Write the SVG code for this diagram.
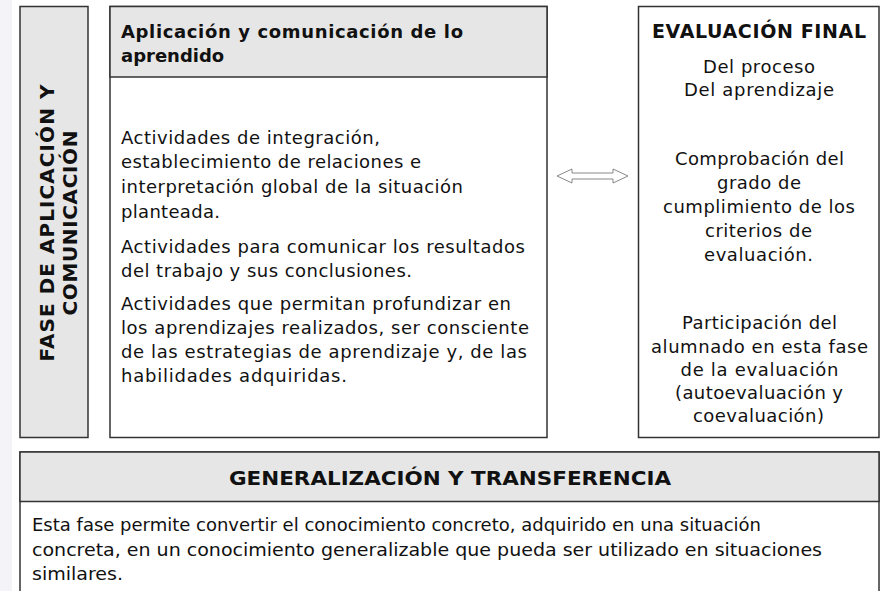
<svg xmlns="http://www.w3.org/2000/svg" width="885" height="591" viewBox="0 0 885 591">
<style>
.box{stroke:#333;stroke-width:1.5;}
.hdr{fill:#e6e6e6;}
.t{font-family:"DejaVu Sans",Verdana,sans-serif;font-size:18px;fill:#111;}
.b{font-family:"DejaVu Sans",Verdana,sans-serif;font-size:18px;font-weight:bold;fill:#111;}
.c{text-anchor:middle;}
.n{font-family:"DejaVu Sans Condensed","DejaVu Sans",sans-serif;font-stretch:condensed;font-size:17px;fill:#111;}
</style>
<rect x="0" y="0" width="885" height="591" fill="#ffffff"/>
<rect x="0" y="0" width="12" height="591" fill="#f3f3f8"/>
<g id="fase">
<rect class="box hdr" x="20" y="6.5" width="68" height="431"/>
<g transform="translate(54,223) rotate(-90)">
<text class="b c" x="0" y="0" style="font-size:20px" textLength="277">FASE DE APLICACIÓN Y</text>
<text class="b c" x="0" y="23" style="font-size:20px" textLength="185">COMUNICACIÓN</text>
</g>
</g>
<g id="aplicacion">
<rect class="box" x="110" y="6.5" width="437" height="431" fill="#fff"/>
<rect class="box hdr" x="110" y="6.5" width="437" height="70.5"/>
<text class="b" x="121" y="38" textLength="342">Aplicación y comunicación de lo</text>
<text class="b" x="121" y="62">aprendido</text>
<text class="t" x="121" y="144" textLength="259">Actividades de integración,</text>
<text class="t" x="121" y="168" textLength="300">establecimiento de relaciones e</text>
<text class="t" x="121" y="193" textLength="342">interpretación global de la situación</text>
<text class="t" x="121" y="218" textLength="99">planteada.</text>
<text class="t" x="121" y="253" textLength="404">Actividades para comunicar los resultados</text>
<text class="t" x="121" y="277" textLength="291">del trabajo y sus conclusiones.</text>
<text class="t" x="121" y="310" textLength="390">Actividades que permitan profundizar en</text>
<text class="t" x="121" y="334" textLength="408">los aprendizajes realizados, ser consciente</text>
<text class="t" x="121" y="358" textLength="406">de las estrategias de aprendizaje y, de las</text>
<text class="t" x="121" y="382" textLength="226">habilidades adquiridas.</text>
</g>
<g id="connectors">
<path d="M557,176 L572,169 L572,173 L613,173 L613,169 L628,176 L613,183 L613,179 L572,179 L572,183 Z" fill="#fff" stroke="#888" stroke-width="1"/>
</g>
<g id="evaluacion">
<rect class="box" x="638.5" y="6.5" width="240.5" height="431" fill="#fff"/>
<text class="b c" x="759" y="38" style="font-size:19px" textLength="214">EVALUACIÓN FINAL</text>
<text class="t c" x="759" y="73" textLength="112">Del proceso</text>
<text class="t c" x="759" y="96" textLength="150">Del aprendizaje</text>
<text class="t c" x="759.5" y="165" textLength="169">Comprobación del</text>
<text class="t c" x="759" y="189" textLength="84">grado de</text>
<text class="t c" x="759" y="213" textLength="192">cumplimiento de los</text>
<text class="t c" x="758.5" y="237" textLength="107">criterios de</text>
<text class="t c" x="758.5" y="261" textLength="109">evaluación.</text>
<text class="t c" x="759.5" y="329" textLength="155">Participación del</text>
<text class="t c" x="759.5" y="353" textLength="217">alumnado en esta fase</text>
<text class="t c" x="759.5" y="376" textLength="158">de la evaluación</text>
<text class="t c" x="759" y="399" textLength="168">(autoevaluación y</text>
<text class="t c" x="758.5" y="422" textLength="131">coevaluación)</text>
</g>
<g id="generalizacion">
<rect class="box" x="20" y="452" width="859" height="145" fill="#fff"/>
<rect class="box hdr" x="20" y="452" width="859" height="49.5"/>
<text class="n c" x="450" y="485" style="font-weight:bold;font-size:19px" textLength="442" lengthAdjust="spacingAndGlyphs">GENERALIZACIÓN Y TRANSFERENCIA</text>
<text class="n" x="32" y="531" textLength="729" lengthAdjust="spacingAndGlyphs">Esta fase permite convertir el conocimiento concreto, adquirido en una situación</text>
<text class="n" x="32" y="556" textLength="790" lengthAdjust="spacingAndGlyphs">concreta, en un conocimiento generalizable que pueda ser utilizado en situaciones</text>
<text class="n" x="32" y="580" textLength="91" lengthAdjust="spacingAndGlyphs">similares.</text>
</g>
</svg>
